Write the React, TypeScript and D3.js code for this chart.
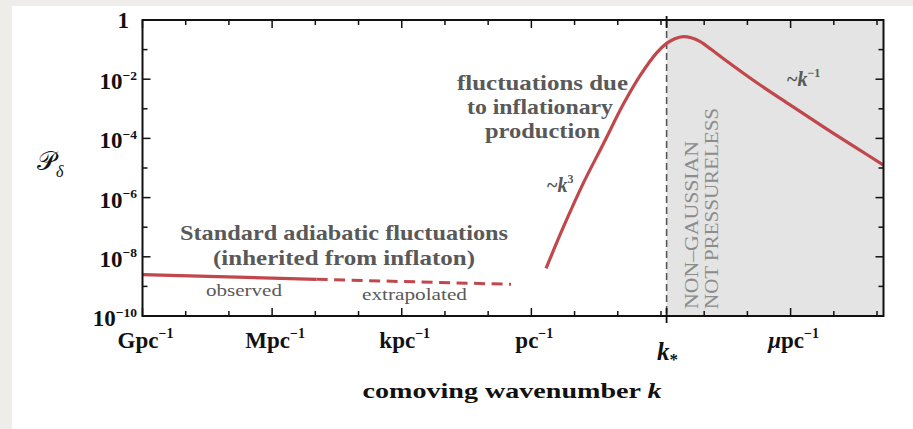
import React from 'react';
import * as d3 from 'd3';

const W = 913;
const H = 429;

// axis ticks (exponents)
const yMajorExps = [0, -2, -4, -6, -8, -10];
const yMinorExps = [-1, -3, -5, -7, -9];
const xMajorExps = [0, 3, 6, 9, 15];
const xMajorLabels = ['Gpc', 'Mpc', 'kpc', 'pc', 'pc'];
const xMajorPrefix = ['', '', '', '', 'μ'];
const xMinorExps = [1, 2, 4, 5, 7, 8, 10, 11, 12, 13, 14, 16, 17];
const kStarExp = 12.13;

// data (log10 k in Gpc^-1, log10 P)
const observedLogK = [0, 4.03];
const observedLogP = [-8.6, -8.76];
const extrapLogK = [4.03, 8.53];
const extrapLogP = [-8.76, -8.93];
const inflLogK = [9.34, 9.74, 10.2, 10.67, 11.13, 11.52, 11.9, 12.13, 12.32, 12.52, 12.7, 12.9, 13.15, 13.44, 14.22, 14.99, 15.76, 16.53, 17.15];
const inflLogP = [-8.39, -7.0, -5.52, -4.17, -2.84, -1.87, -1.11, -0.79, -0.63, -0.56, -0.6, -0.72, -0.98, -1.3, -2.12, -2.87, -3.61, -4.33, -4.9];

const SERIF = '"Liberation Serif", "DejaVu Serif", serif';
const RED = '#c0474b';
const GRAY = '#595959';

export default function App() {
  const left = 142.5, right = 883.5, top = 20, bottom = 316;
  const x = d3.scaleLog().domain([1, Math.pow(10, 17.15)]).range([left, right]);
  const y = d3.scaleLog().domain([1e-10, 1]).range([bottom, top]);

  const line = d3
    .line<[number, number]>()
    .x((d) => x(Math.pow(10, d[0])))
    .y((d) => y(Math.pow(10, d[1])))
    .curve(d3.curveCatmullRom.alpha(0.5));

  const obs = observedLogK.map((k, i) => [k, observedLogP[i]] as [number, number]);
  const ext = extrapLogK.map((k, i) => [k, extrapLogP[i]] as [number, number]);
  const infl = inflLogK.map((k, i) => [k, inflLogP[i]] as [number, number]);

  const xs = x(Math.pow(10, kStarExp));
  const majLen = 8, minLen = 5;

  return (
    <svg width={W} height={H} style={{ position: 'fixed', left: 0, top: 0 }} fontFamily={SERIF}>
      <rect x={0} y={0} width={W} height={H} fill="#efedea" />
      <rect x={12} y={6} width={W - 12} height={H - 6} fill="#ffffff" />

      {/* shaded region */}
      <rect x={xs} y={top} width={right - xs} height={bottom - top} fill="#e4e4e4" />

      {/* vertical dashed line at k* */}
      <line x1={xs} x2={xs} y1={top} y2={bottom} stroke="#555" strokeWidth={1.6} strokeDasharray="7,4" />

      {/* ticks */}
      <g stroke="#111" strokeWidth={1.5}>
        {yMajorExps.map((e) => (
          <g key={'ym' + e}>
            <line x1={left} x2={left + majLen} y1={y(Math.pow(10, e))} y2={y(Math.pow(10, e))} />
            <line x1={right} x2={right - majLen} y1={y(Math.pow(10, e))} y2={y(Math.pow(10, e))} />
          </g>
        ))}
        {yMinorExps.map((e) => (
          <g key={'yn' + e}>
            <line x1={left} x2={left + minLen} y1={y(Math.pow(10, e))} y2={y(Math.pow(10, e))} />
            <line x1={right} x2={right - minLen} y1={y(Math.pow(10, e))} y2={y(Math.pow(10, e))} />
          </g>
        ))}
        {xMajorExps.map((e) => (
          <g key={'xm' + e}>
            <line x1={x(Math.pow(10, e))} x2={x(Math.pow(10, e))} y1={bottom} y2={bottom - majLen} />
            <line x1={x(Math.pow(10, e))} x2={x(Math.pow(10, e))} y1={top} y2={top + majLen} />
          </g>
        ))}
        {xMinorExps.map((e) => (
          <g key={'xn' + e}>
            <line x1={x(Math.pow(10, e))} x2={x(Math.pow(10, e))} y1={bottom} y2={bottom - minLen} />
            <line x1={x(Math.pow(10, e))} x2={x(Math.pow(10, e))} y1={top} y2={top + minLen} />
          </g>
        ))}
        <line x1={xs} x2={xs} y1={bottom - 8} y2={bottom + 7} strokeWidth={1.8} />
        <line x1={xs} x2={xs} y1={top + 8} y2={top - 4} strokeWidth={1.8} />
      </g>

      {/* curves */}
      <path d={line(obs) || ''} fill="none" stroke={RED} strokeWidth={3.2} />
      <path d={line(ext) || ''} fill="none" stroke={RED} strokeWidth={3} strokeDasharray="11,6.5" />
      <path d={line(infl) || ''} fill="none" stroke={RED} strokeWidth={3.2} strokeLinejoin="round" />

      {/* frame */}
      <rect x={left} y={top} width={right - left} height={bottom - top} fill="none" stroke="#111" strokeWidth={2} />

      {/* y tick labels */}
      <g fill="#111" fontWeight="bold">
        {yMajorExps.map((e) =>
          e === 0 ? (
            <text key={'yl' + e} x={129} y={y(1) + 7.5} textAnchor="end" fontSize={23}>1</text>
          ) : (
            <text key={'yl' + e} x={137} y={y(Math.pow(10, e)) + 10} textAnchor="end" fontSize={23}>
              10<tspan dy={-9.5} fontSize={13.5}>{'−' + -e}</tspan>
            </text>
          )
        )}
      </g>

      {/* x tick labels */}
      <g fill="#111" fontWeight="bold">
        {xMajorExps.map((e, i) => (
          <text key={'xl' + e} x={x(Math.pow(10, e)) + 3} y={348} textAnchor="middle" fontSize={23}>
            {xMajorPrefix[i] ? <tspan fontStyle="italic">{xMajorPrefix[i]}</tspan> : null}
            {xMajorLabels[i]}
            <tspan dy={-10} fontSize={14}>−1</tspan>
          </text>
        ))}
        <text x={xs + 1} y={360} textAnchor="middle" fontSize={25}>
          <tspan fontStyle="italic">k</tspan>
          <tspan dy={5} fontSize={17}>*</tspan>
        </text>
      </g>

      {/* axis titles */}
      <text x={512} y={398} textAnchor="middle" fontSize={22} fontWeight="bold" fill="#111" textLength={299} lengthAdjust="spacingAndGlyphs">
        comoving wavenumber <tspan fontStyle="italic">k</tspan>
      </text>
      <text x={37} y={170} fontSize={26} fill="#111">
        𝒫<tspan dy={7} fontSize={16} fontStyle="italic">δ</tspan>
      </text>

      {/* annotations */}
      <g fill={GRAY} fontWeight="bold">
        <text x={344} y={240} textAnchor="middle" fontSize={21} textLength={328} lengthAdjust="spacingAndGlyphs">Standard adiabatic fluctuations</text>
        <text x={344} y={265} textAnchor="middle" fontSize={21} textLength={262} lengthAdjust="spacingAndGlyphs">(inherited from inflaton)</text>
        <text x={542.5} y={90} textAnchor="middle" fontSize={21} textLength={171} lengthAdjust="spacingAndGlyphs">fluctuations due</text>
        <text x={540} y={114} textAnchor="middle" fontSize={21} textLength={146} lengthAdjust="spacingAndGlyphs">to inflationary</text>
        <text x={542.5} y={138} textAnchor="middle" fontSize={21} textLength={115} lengthAdjust="spacingAndGlyphs">production</text>
        <text x={547} y={192} fontSize={20}>
          ~<tspan fontStyle="italic">k</tspan>
          <tspan dy={-9} fontSize={12}>3</tspan>
        </text>
        <text x={787} y={86} fontSize={20}>
          ~<tspan fontStyle="italic">k</tspan>
          <tspan dy={-9} fontSize={12}>−1</tspan>
        </text>
      </g>
      <g fill={GRAY}>
        <text x={206} y={296} fontSize={17} textLength={76} lengthAdjust="spacingAndGlyphs">observed</text>
        <text x={362} y={300} fontSize={17} textLength={105} lengthAdjust="spacingAndGlyphs">extrapolated</text>
      </g>
      <g fill="#8c8c8c" fontSize={18}>
        <text transform="translate(698,309) rotate(-90)" textLength={168} lengthAdjust="spacingAndGlyphs">NON–GAUSSIAN</text>
        <text transform="translate(718,309) rotate(-90)" textLength={201} lengthAdjust="spacingAndGlyphs">NOT  PRESSURELESS</text>
      </g>
    </svg>
  );
}
